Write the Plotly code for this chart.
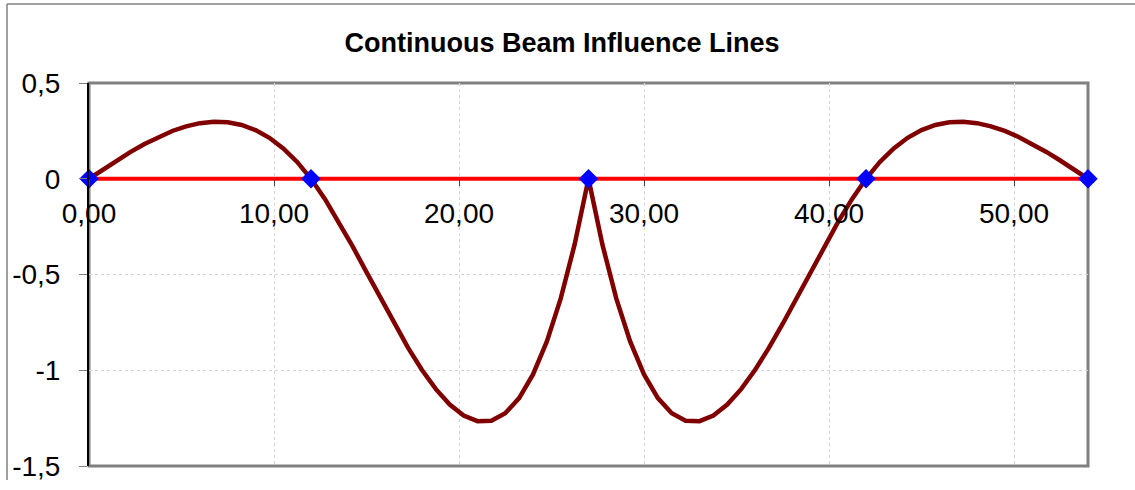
import plotly.graph_objects as go

# ---- data ----
x_pos = [0.00, 0.75, 1.50, 2.25, 3.00, 3.75, 4.50, 5.25, 6.00, 6.75, 7.50, 8.25,
         9.00, 9.75, 10.50, 11.25, 12.00, 12.75, 13.50, 14.25, 15.00, 15.75, 16.50,
         17.25, 18.00, 18.75, 19.50, 20.25, 21.00, 21.75, 22.50, 23.25, 24.00, 24.75,
         25.50, 26.25, 27.00, 27.75, 28.50, 29.25, 30.00, 30.75, 31.50, 32.25, 33.00,
         33.75, 34.50, 35.25, 36.00, 36.75, 37.50, 38.25, 39.00, 39.75, 40.50, 41.25,
         42.00, 42.75, 43.50, 44.25, 45.00, 45.75, 46.50, 47.25, 48.00, 48.75, 49.50,
         50.25, 51.00, 51.75, 52.50, 53.25, 54.00]
influence = [0.0, 0.0482, 0.0953, 0.1401, 0.1815, 0.2183, 0.2495, 0.2739, 0.2903,
             0.2977, 0.2949, 0.2807, 0.2540, 0.2138, 0.1588, 0.0879, 0.0,
             -0.1051, -0.2243, -0.3532, -0.4877, -0.6237, -0.7570, -0.8834, -0.9987,
             -1.0988, -1.1794, -1.2365, -1.2658, -1.2632, -1.2244, -1.1454, -1.0219,
             -0.8498, -0.6249, -0.3430, 0.0,
             -0.3430, -0.6249, -0.8498, -1.0219, -1.1454, -1.2244, -1.2632, -1.2658,
             -1.2365, -1.1794, -1.0988, -0.9987, -0.8834, -0.7570, -0.6237, -0.4877,
             -0.3532, -0.2243, -0.1051, 0.0,
             0.0879, 0.1588, 0.2138, 0.2540, 0.2807, 0.2949, 0.2977, 0.2903, 0.2739,
             0.2495, 0.2183, 0.1815, 0.1401, 0.0953, 0.0482, 0.0]
support_x = [0, 12, 27, 42, 54]
support_y = [0, 0, 0, 0, 0]

x_tickvals = [0, 10, 20, 30, 40, 50]
x_ticktext = ["0,00", "10,00", "20,00", "30,00", "40,00", "50,00"]
y_tickvals = [0.5, 0, -0.5, -1, -1.5]
y_ticktext = ["0,5", "0", "-0,5", "-1", "-1,5"]

title = "Continuous Beam Influence Lines"

FONT = "Liberation Sans, Arial, sans-serif"

fig = go.Figure()

# beam line (red)
fig.add_trace(go.Scatter(x=support_x, y=support_y, mode="lines",
                         line=dict(color="#FF0000", width=4),
                         hoverinfo="skip", showlegend=False))
# influence line
fig.add_trace(go.Scatter(x=x_pos, y=influence, mode="lines",
                         line=dict(color="#800000", width=4.5),
                         showlegend=False))
# supports
fig.add_trace(go.Scatter(x=support_x, y=support_y, mode="markers",
                         marker=dict(symbol="diamond", color="#0000FF", size=15,
                                     line=dict(width=0)),
                         cliponaxis=False, showlegend=False))

W, H = 1135, 490
L, R, T, B = 89, 47, 83, 24
pw = W - L - R
ph = H - T - B

fig.update_layout(
    width=W, height=H,
    margin=dict(l=L, r=R, t=T, b=B, autoexpand=False),
    paper_bgcolor="white",
    plot_bgcolor="white",
    font=dict(family=FONT, color="black", size=28),
    title=dict(text="<b>" + title + "</b>", font=dict(family=FONT, size=27, color="black"),
               x=562 / W, xref="container", xanchor="center",
               y=1 - 43 / H, yanchor="middle"),
    showlegend=False,
)

fig.update_xaxes(
    range=[0, 54],
    tickvals=x_tickvals, ticktext=x_ticktext,
    anchor="free", position=0.75,
    ticks="outside", ticklen=6, tickcolor="#404040", tickwidth=1,
    showline=False, zeroline=False,
    showgrid=True, gridcolor="#d4d4d4", griddash="dot", gridwidth=1,
    tickfont=dict(family=FONT, size=28, color="black"),
    ticklabelstandoff=4,
    automargin=False,
)
fig.update_yaxes(
    range=[-1.5, 0.5],
    tickvals=y_tickvals, ticktext=y_ticktext,
    ticks="outside", ticklen=8, tickcolor="#808080", tickwidth=1,
    showline=True, linecolor="black", linewidth=2,
    zeroline=False,
    showgrid=True, gridcolor="#d4d4d4", griddash="dot", gridwidth=1,
    tickfont=dict(family=FONT, size=28, color="black"),
    ticklabelstandoff=13,
    automargin=False,
)

# plot area border (grey)
fig.add_shape(type="rect", xref="paper", yref="paper", x0=0, x1=1, y0=0, y1=1,
              line=dict(color="#808080", width=3), layer="between")
# outer chart border (top and left visible)
fig.add_shape(type="line", xref="paper", yref="paper",
              x0=(7 - L) / pw, x1=(W + 5 - L) / pw,
              y0=(H - B - 4) / ph, y1=(H - B - 4) / ph,
              line=dict(color="#808080", width=1.5))
fig.add_shape(type="line", xref="paper", yref="paper",
              x0=(7 - L) / pw, x1=(7 - L) / pw,
              y0=(H - B - 4) / ph, y1=(H - B + 10 - H) / ph,
              line=dict(color="#808080", width=1.5))

fig.write_html("out.html",
               config={"displayModeBar": False},
               post_script="document.body.style.margin='0';document.body.style.overflow='hidden';")
